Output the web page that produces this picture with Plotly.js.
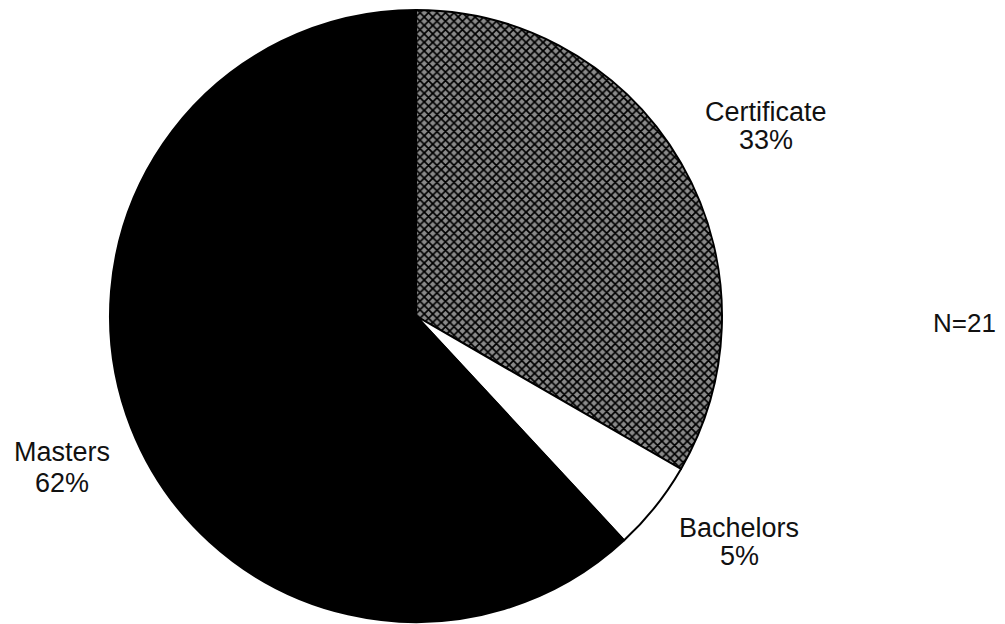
<!DOCTYPE html>
<html><head><meta charset="utf-8">
<script src="https://cdn.plot.ly/plotly-3.0.1.min.js"></script>
<style>html,body{margin:0;padding:0;background:#fff;}</style>
</head><body>
<div id="chart" style="width:1005px;height:624px;"></div>
<script>
const categories = ["Certificate", "Bachelors", "Masters"];
const counts = [7, 1, 13];
const pctLabels = ["33%", "5%", "62%"];
const noteText = "N=21";

const fillColors = ["#7a7a7a", "#ffffff", "#000000"];
const patterns = ["x", "", ""];

const W = 1005, H = 624;
const cx = 416, cy = 316, r = 306;

const data = [{
  type: "pie",
  labels: categories,
  values: counts,
  sort: false,
  direction: "clockwise",
  rotation: 0,
  textinfo: "none",
  hoverinfo: "label+percent",
  showlegend: false,
  marker: {
    colors: fillColors,
    line: {color: "#000", width: 2},
    pattern: {shape: patterns, fgcolor: "#000", bgcolor: "#8a8a8a", size: 6, solidity: 0.5}
  },
  domain: {x: [(cx - r) / W, (cx + r) / W], y: [(H - cy - r) / H, (H - cy + r) / H]}
}];

const labelPos = [[766, 112, 140], [739, 528, 556], [62, 452, 483]];
const fontSpec = {family: "Liberation Sans, Arial, sans-serif", size: 27, color: "#111"};
const annotations = [];
categories.forEach((c, i) => {
  annotations.push({text: c, x: labelPos[i][0] / W, y: 1 - labelPos[i][1] / H, xref: "paper", yref: "paper", showarrow: false, xanchor: "center", yanchor: "middle", font: fontSpec});
  annotations.push({text: pctLabels[i], x: labelPos[i][0] / W, y: 1 - labelPos[i][2] / H, xref: "paper", yref: "paper", showarrow: false, xanchor: "center", yanchor: "middle", font: fontSpec});
});
annotations.push({text: noteText, x: 964 / W, y: 1 - 323 / H, xref: "paper", yref: "paper", showarrow: false, xanchor: "center", yanchor: "middle", font: {family: "Liberation Sans, Arial, sans-serif", size: 26, color: "#111"}});

const layout = {
  width: W, height: H,
  margin: {l: 0, r: 0, t: 0, b: 0},
  paper_bgcolor: "#fff",
  plot_bgcolor: "#fff",
  annotations: annotations
};
Plotly.newPlot("chart", data, layout, {displayModeBar: false, staticPlot: true});
</script>
</body></html>
